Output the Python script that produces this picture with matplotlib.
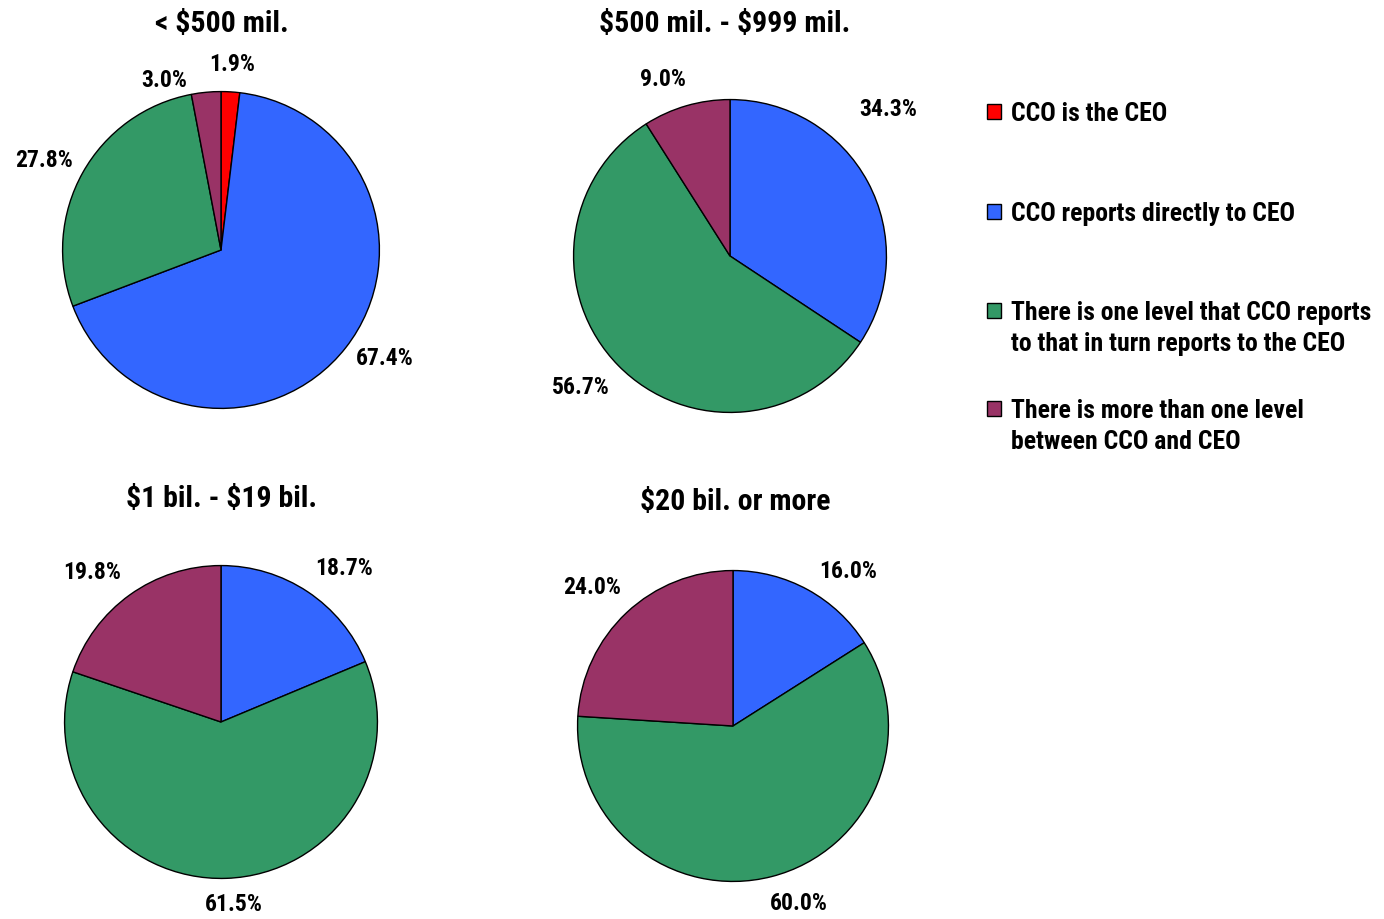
import matplotlib
matplotlib.use('Agg')

import matplotlib.pyplot as plt
from matplotlib.patches import Rectangle
import numpy as np

plt.rcParams['font.family'] = ['Roboto Condensed', 'DejaVu Sans']
plt.rcParams['font.weight'] = 'bold'
plt.rcParams['text.parse_math'] = False

# data
categories = ['CCO is the CEO',
              'CCO reports directly to CEO',
              'There is one level that CCO reports\nto that in turn reports to the CEO',
              'There is more than one level\nbetween CCO and CEO']
colors = ['#FF0000', '#3366FF', '#339966', '#993366']

titles = ['< $500 mil.', '$500 mil. - $999 mil.', '$1 bil. - $19 bil.', '$20 bil. or more']
under_500m = [1.9, 67.4, 27.8, 3.0]
m500_999 = [0.0, 34.3, 56.7, 9.0]
b1_19 = [0.0, 18.7, 61.5, 19.8]
b20_plus = [0.0, 16.0, 60.0, 24.0]
series = [under_500m, m500_999, b1_19, b20_plus]

W, H = 1384, 919
fig = plt.figure(figsize=(W / 100, H / 100), dpi=100)

# pie centre (px), radius (px), title centre (px)
panels = [((221, 250), 160, (222, 24)),
          ((730, 256), 158, (725, 24)),
          ((221, 722), 158, (222, 499)),
          ((733, 726), 157, (735, 502))]

# label nudges (angle offset in degrees, distance in radii) for the shown wedges
nudges = [[(0, 1.17), (4.5, 1.24), (2.5, 1.25), (13, 1.13)],
          [(14.5, 1.38), (-3, 1.27), (4.6, 1.21)],
          [(-5, 1.26), (2, 1.17), (5, 1.26)],
          [(-7.7, 1.24), (6, 1.22), (2.4, 1.27)]]

for vals, title, ((cx, cy), r, (tx, ty)), nud in zip(series, titles, panels, nudges):
    ax = fig.add_axes([(cx - r) / W, 1 - (cy + r) / H, 2 * r / W, 2 * r / H])
    keep = [i for i, v in enumerate(vals) if v > 0]
    v = [vals[i] for i in keep]
    c = [colors[i] for i in keep]
    wedges, _ = ax.pie(v, colors=c, startangle=90, counterclock=False, radius=1,
                       wedgeprops=dict(edgecolor='black', linewidth=1.0))
    for w, val, (da, dist) in zip(wedges, v, nud):
        ang = np.deg2rad((w.theta1 + w.theta2) / 2 + da)
        ax.text(dist * np.cos(ang), dist * np.sin(ang), '%.1f%%' % val,
                ha='center', va='center', fontsize=17, fontweight='bold')
    ax.set_xlim(-1.01, 1.01)
    ax.set_ylim(-1.01, 1.01)
    fig.text(tx / W, 1 - ty / H, title, ha='center', va='center',
             fontsize=21.5, fontweight='bold')

# legend drawn by hand so that markers line up with the first text line
leg_y = [112, 212, 311, 409]
for lab, col, y in zip(categories, colors, leg_y):
    fig.patches.append(Rectangle((987 / W, 1 - (y + 7) / H), 14 / W, 15 / H,
                                 transform=fig.transFigure, facecolor=col,
                                 edgecolor='black', linewidth=1.0))
    fig.text(1011 / W, 1 - (y - 10) / H, lab, ha='left', va='top',
             fontsize=18.5, fontweight='bold', linespacing=1.38)

plt.savefig('out.png', dpi=100)
